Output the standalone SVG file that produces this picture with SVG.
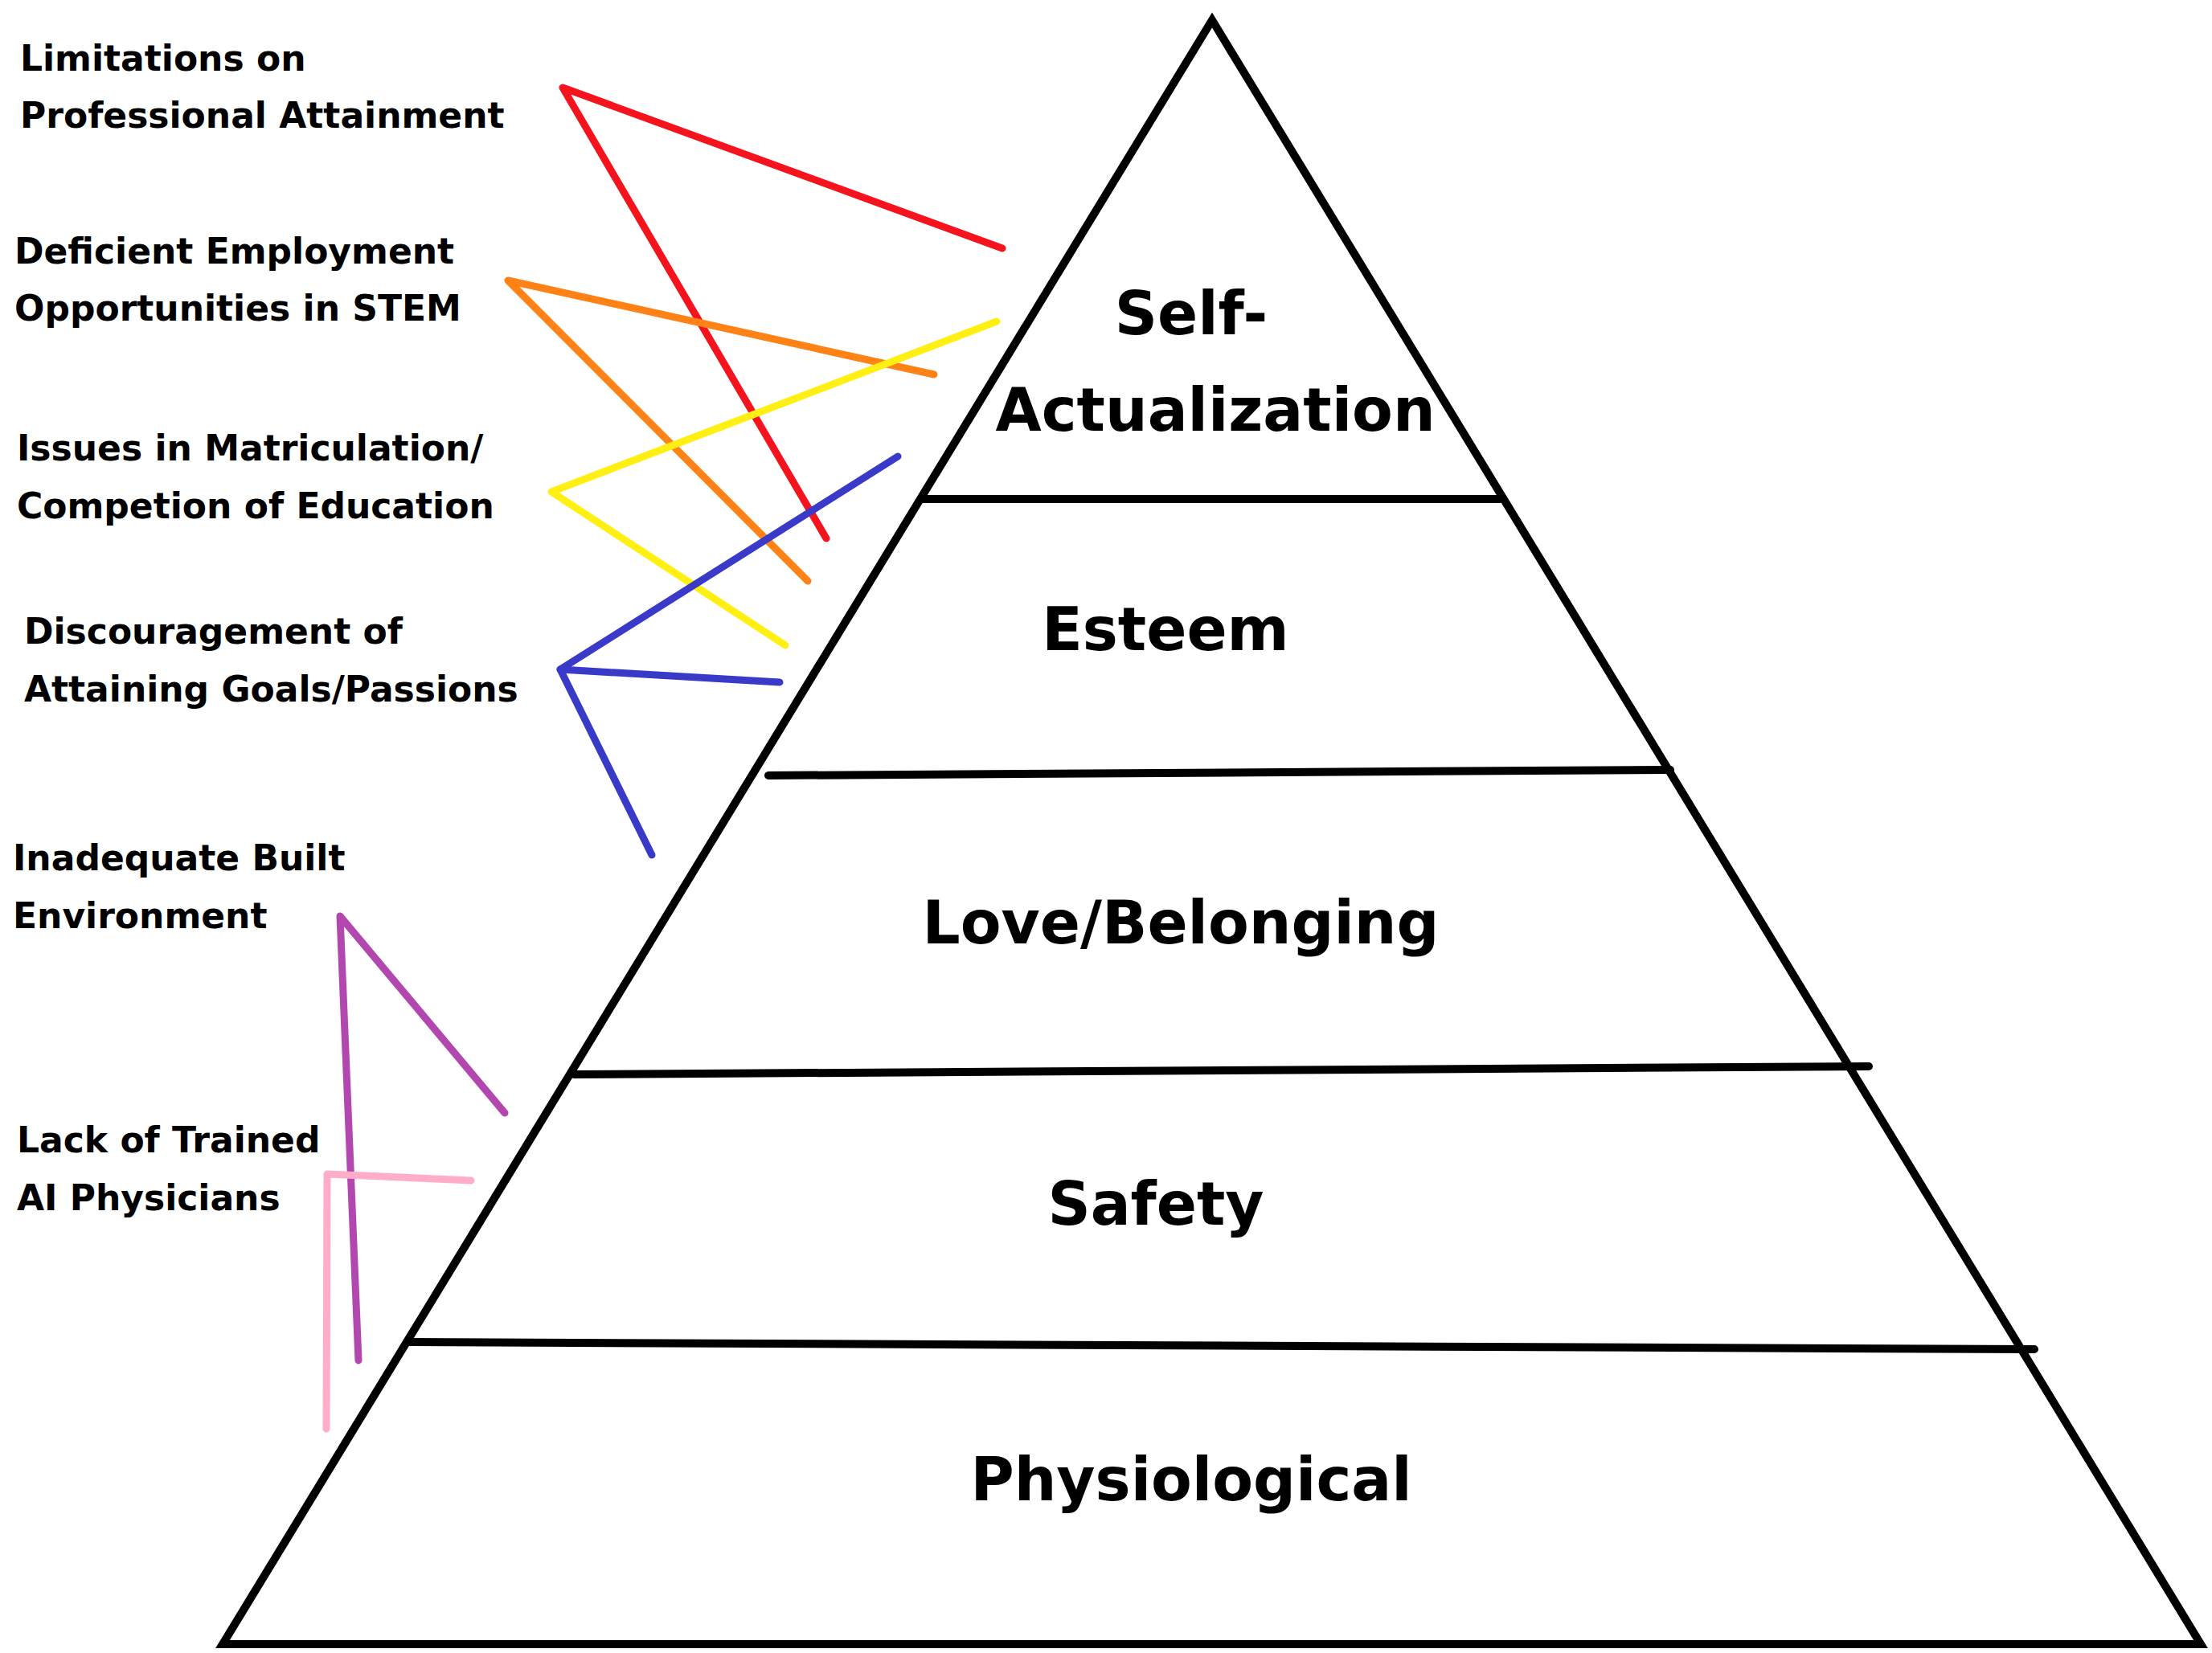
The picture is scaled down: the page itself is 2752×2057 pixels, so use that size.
<svg xmlns="http://www.w3.org/2000/svg" width="2752" height="2057" viewBox="0 0 2752 2057">
<style>
.b{stroke:#000;stroke-width:10;fill:none;stroke-linecap:round;stroke-linejoin:miter}
.c{stroke-width:9;fill:none;stroke-linecap:round;stroke-linejoin:round}
.t{font-family:"DejaVu Sans",sans-serif;font-weight:bold;font-size:74px;text-anchor:middle;fill:#000}
.l{font-family:"DejaVu Sans",sans-serif;font-weight:bold;font-size:44px;fill:#000}
</style>
<rect width="2752" height="2057" fill="#fff"/>
<g id="pyramid">
<polygon class="b" points="1508,25 277,2046 2738,2046"/>
<line class="b" x1="1148" y1="621" x2="1866" y2="621"/>
<line class="b" x1="956" y1="965" x2="2078" y2="958"/>
<line class="b" x1="714" y1="1337" x2="2325" y2="1327"/>
<line class="b" x1="506" y1="1670" x2="2531" y2="1679"/>
</g>
<g id="levels">
<text class="t" x="1482" y="416">Self-</text>
<text class="t" x="1512" y="536">Actualization</text>
<text class="t" x="1450" y="809">Esteem</text>
<text class="t" x="1469" y="1174">Love/Belonging</text>
<text class="t" x="1438" y="1524">Safety</text>
<text class="t" x="1482" y="1867">Physiological</text>
</g>
<g id="labels">
<text class="l" x="25" y="88">Limitations on</text>
<text class="l" x="25" y="159">Professional Attainment</text>
<text class="l" x="18" y="328">Deficient Employment</text>
<text class="l" x="18" y="399">Opportunities in STEM</text>
<text class="l" x="21" y="573">Issues in Matriculation/</text>
<text class="l" x="21" y="645">Competion of Education</text>
<text class="l" x="30" y="801">Discouragement of</text>
<text class="l" x="30" y="873">Attaining Goals/Passions</text>
<text class="l" x="16" y="1083">Inadequate Built</text>
<text class="l" x="16" y="1155">Environment</text>
<text class="l" x="21" y="1434">Lack of Trained</text>
<text class="l" x="21" y="1506">AI Physicians</text>
</g>
<g id="connectors">
<polyline class="c" stroke="#f5141e" points="1247,309 700,109 1028,670"/>
<polyline class="c" stroke="#ff8217" points="1162,466 632,349 1005,723"/>
<polyline class="c" stroke="#ffef12" points="1240,400 686,612 977,803"/>
<polyline class="c" stroke="#3a3ac8" points="1117,568 697,833 970,849"/>
<polyline class="c" stroke="#3a3ac8" points="697,833 811,1064"/>
<polyline class="c" stroke="#b347b0" points="628,1385 423,1140 446,1693"/>
<polyline class="c" stroke="#ffadc8" points="586,1469 407,1461 406,1778"/>
</g>
</svg>
